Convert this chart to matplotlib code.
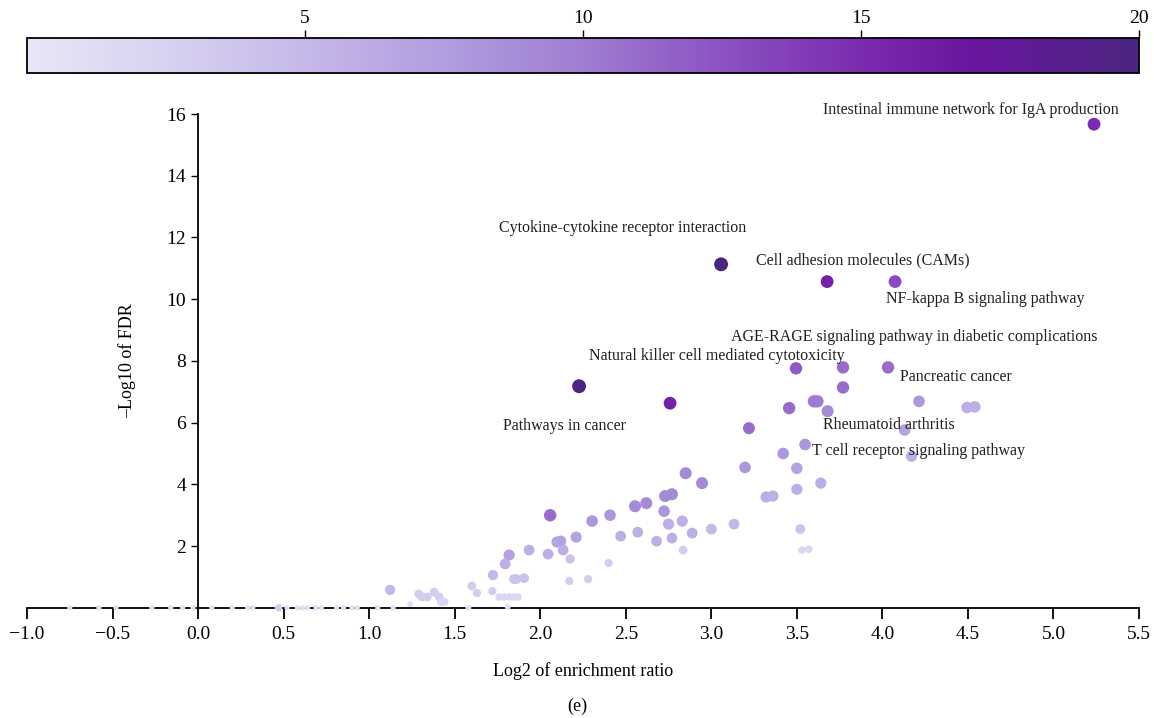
import matplotlib
matplotlib.use("Agg")
from matplotlib import pyplot as plt
from matplotlib.colors import LinearSegmentedColormap, Normalize
import matplotlib.cm as cm
import numpy as np

# KEGG pathway enrichment: log2 enrichment ratio vs -log10(FDR), coloured by gene count
log2_er = [
    5.237, 3.057, 3.677, 4.074, 2.227, 2.759, 3.495, 3.77, 4.033, 3.77,
    4.214, 4.495, 4.54, 3.455, 3.60, 3.62, 3.68, 3.22, 4.13, 3.548,
    4.17, 3.42, 3.197, 3.50, 2.85, 2.946, 3.32, 3.36, 3.50, 3.64,
    2.058, 2.303, 2.408, 2.554, 2.62, 2.73, 2.77, 2.724, 2.75, 2.83,
    2.888, 3.0, 3.133, 3.52, 2.77, 2.68, 2.57, 2.47, 2.835, 2.21,
    2.098, 2.12, 2.134, 2.046, 2.175, 1.935, 1.818, 1.795, 1.724, 1.847,
    1.86, 1.906, 2.17, 2.28, 2.40, 3.53, 3.57, 1.122, 1.29, 1.31,
    1.34, 1.38, 1.41, 1.42, 1.44, 1.60, 1.63, 1.72, 1.76, 1.79,
    1.82, 1.85, 1.87, 1.24, 1.81, 1.58,
    -0.75, -0.58, -0.48, -0.27, -0.16, -0.09, -0.03, 0.08, 0.20, 0.29,
    0.32, 0.47, 0.52, 0.58, 0.61, 0.64, 0.69, 0.72, 0.81, 0.85,
    0.90, 0.93, 1.05, 1.14,
]
neg_log10_fdr = [
    15.67, 11.13, 10.57, 10.57, 7.18, 6.63, 7.76, 7.79, 7.79, 7.14,
    6.69, 6.49, 6.51, 6.47, 6.69, 6.69, 6.37, 5.82, 5.76, 5.29,
    4.91, 5.00, 4.55, 4.52, 4.36, 4.04, 3.59, 3.62, 3.84, 4.04,
    3.00, 2.81, 3.00, 3.29, 3.39, 3.62, 3.68, 3.13, 2.71, 2.81,
    2.42, 2.55, 2.71, 2.55, 2.26, 2.16, 2.45, 2.32, 1.87, 2.29,
    2.13, 2.16, 1.87, 1.74, 1.58, 1.87, 1.71, 1.42, 1.06, 0.93,
    0.93, 0.96, 0.87, 0.93, 1.45, 1.87, 1.90, 0.58, 0.45, 0.35,
    0.35, 0.51, 0.35, 0.19, 0.19, 0.71, 0.48, 0.54, 0.35, 0.35,
    0.35, 0.35, 0.35, 0.12, 0.03, 0.0,
    0.0, 0.0, 0.0, 0.0, 0.0, 0.0, 0.0, 0.0, 0.0, 0.0,
    0.0, 0.0, 0.0, 0.0, 0.0, 0.0, 0.0, 0.0, 0.0, 0.0,
    0.0, 0.0, 0.0, 0.0,
]
gene_count = [
    15, 20, 16, 13, 20, 16, 12, 11, 11, 11,
    8, 6, 6, 11, 10, 10, 9, 11, 7, 8,
    6, 8, 8, 7, 9, 9, 6, 6, 6, 6,
    11, 8, 8, 9, 9, 9, 9, 8, 6, 6,
    6, 5, 5, 4, 6, 6, 6, 6, 3, 7,
    7, 7, 6, 6, 4, 6, 7, 6, 5, 4,
    4, 4, 3, 3, 3, 2, 2, 5, 3, 3,
    3, 3, 3, 2, 2, 3, 3, 3, 2, 2,
    2, 2, 2, 1, 1, 1,
    1, 1, 1, 1, 1, 1, 1, 1, 1, 1,
    1, 3, 1, 1, 1, 1, 1, 1, 1, 1,
    1, 1, 1, 1,
]
marker_size = [
    85, 100, 85, 85, 100, 85, 80, 80, 80, 80,
    70, 70, 70, 80, 80, 80, 75, 75, 70, 70,
    65, 70, 70, 70, 75, 75, 65, 65, 65, 65,
    80, 70, 70, 75, 75, 75, 75, 70, 65, 65,
    60, 60, 60, 50, 60, 60, 60, 60, 40, 65,
    65, 65, 60, 60, 45, 60, 65, 60, 55, 50,
    50, 50, 35, 35, 35, 30, 30, 55, 40, 40,
    40, 40, 40, 35, 35, 40, 35, 35, 30, 30,
    30, 30, 30, 18, 18, 18,
    14, 14, 14, 14, 14, 14, 14, 14, 14, 14,
    14, 30, 14, 14, 14, 14, 14, 14, 14, 14,
    14, 14, 14, 14,
]

labels = [
    "Intestinal immune network for IgA production",
    "Cytokine-cytokine receptor interaction",
    "Cell adhesion molecules (CAMs)",
    "NF-kappa B signaling pathway",
    "AGE-RAGE signaling pathway in diabetic complications",
    "Natural killer cell mediated cytotoxicity",
    "Pancreatic cancer",
    "Pathways in cancer",
    "Rheumatoid arthritis",
    "T cell receptor signaling pathway",
]
label_x = [4.52, 2.484, 3.887, 4.60, 4.185, 3.034, 4.43, 2.14, 4.04, 4.21]
label_y = [16.12, 12.32, 11.25, 9.99, 8.79, 8.15, 7.47, 5.88, 5.91, 5.07]

x_ticks = [-1.0, -0.5, 0.0, 0.5, 1.0, 1.5, 2.0, 2.5, 3.0, 3.5, 4.0, 4.5, 5.0, 5.5]
y_ticks = [2, 4, 6, 8, 10, 12, 14, 16]
cbar_ticks = [5, 10, 15, 20]

plt.rcParams['font.family'] = ['Liberation Serif', 'DejaVu Serif']

cmap = LinearSegmentedColormap.from_list("lav", [
    (0.0, "#e8e6f5"), (0.125, "#d8d1f0"), (0.25, "#c5b8e9"),
    (0.375, "#b19ddf"), (0.5, "#9e7dd1"), (0.625, "#8c52c2"),
    (0.75, "#7a2caf"), (0.85, "#6a16a0"), (1.0, "#4b2580"),
])
norm = Normalize(vmin=0, vmax=20)

fig = plt.figure(figsize=(11.54, 7.18), dpi=100)
ax = fig.add_axes([0.0234, 0.1535, 0.9636, 0.6877])
cax = fig.add_axes([0.0234, 0.8983, 0.9636, 0.0487])

ax.scatter(log2_er, neg_log10_fdr, c=gene_count, s=marker_size,
           cmap=cmap, norm=norm, linewidths=0, zorder=3, clip_on=False)

for txt, tx, ty in zip(labels, label_x, label_y):
    ax.text(tx, ty, txt, ha='center', va='center', fontsize=11.5, color='#231f20')

ax.set_xlim(-1.0, 5.5)
ax.set_ylim(0, 16)
ax.spines['left'].set_position(('data', 0))
ax.spines['top'].set_visible(False)
ax.spines['right'].set_visible(False)
for sp in ['left', 'bottom']:
    ax.spines[sp].set_linewidth(1.3)
ax.set_xticks(x_ticks)
ax.set_xticklabels([('%.1f' % v).replace('-', '\u2212') for v in x_ticks])
ax.set_yticks(y_ticks)
ax.tick_params(axis='x', direction='out', length=8, width=1.3, labelsize=14, pad=5)
ax.tick_params(axis='y', direction='out', length=5, width=1.0, labelsize=14)
ax.set_xlabel("Log2 of enrichment ratio", fontsize=13, labelpad=14)
ax.set_ylabel("\u2013Log10 of FDR", fontsize=13)
ax.yaxis.set_label_coords(0.098, 0.5)

cb = fig.colorbar(cm.ScalarMappable(norm=norm, cmap=cmap), cax=cax,
                  orientation='horizontal', ticks=cbar_ticks)
cax.xaxis.set_ticks_position('top')
cax.tick_params(direction='out', length=6, width=1.0, labelsize=14, pad=2)
cb.outline.set_linewidth(1.3)

fig.text(0.5, 0.004, "(e)", ha='center', va='bottom', fontsize=13)

plt.savefig('out.png', dpi=100)
